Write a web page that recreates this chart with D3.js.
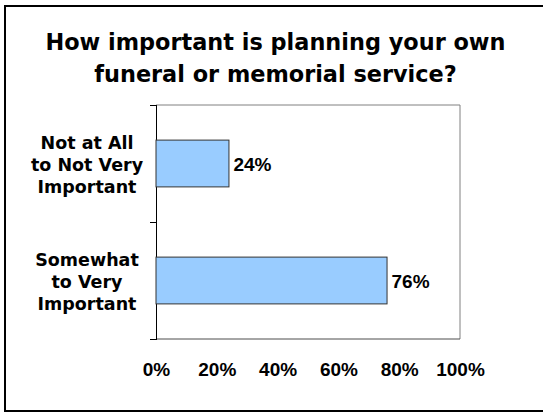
<!DOCTYPE html>
<html>
<head>
<meta charset="utf-8">
<script src="https://cdn.jsdelivr.net/npm/d3@7"></script>
<style>
  html, body { margin: 0; padding: 0; background: #fff; }
  svg { display: block; }
</style>
</head>
<body>
<svg id="chart" width="543" height="413"></svg>
<script>
// Survey answers, one bar per answer group
const categories = ["Not at All to Not Very Important", "Somewhat to Very Important"];
const categoryLines = [
  ["Not at All", "to Not Very", "Important"],
  ["Somewhat", "to Very", "Important"]
];
const values = [24, 76];
const tickValues = [0, 20, 40, 60, 80, 100];
const titleLines = ["How important is planning your own", "funeral or memorial service?"];

const svg = d3.select("#chart");

// Outer frame (its right edge runs past the page)
svg.append("rect")
  .attr("x", 5).attr("y", 6)
  .attr("width", 560).attr("height", 405)
  .attr("fill", "#fff")
  .attr("stroke", "#000")
  .attr("stroke-width", 2);

// Title
const title = svg.append("text")
  .attr("text-anchor", "middle")
  .attr("font-family", "'DejaVu Sans', sans-serif")
  .attr("font-weight", "bold")
  .attr("font-size", 22.4)
  .attr("fill", "#000");
titleLines.forEach((line, i) => {
  title.append("tspan")
    .attr("x", 275.5)
    .attr("y", 50 + i * 31.7)
    .text(line);
});

// Scales
const plot = { left: 156, right: 460, top: 105, bottom: 339 };
const x = d3.scaleLinear().domain([0, 100]).range([plot.left, plot.right]);
const y = d3.scaleBand().domain(categories)
  .range([plot.top, plot.bottom])
  .paddingInner(0.6)
  .paddingOuter(0.3);

// Plot area frame: top and right edges
svg.append("path")
  .attr("d", `M${plot.left},${plot.top}H${plot.right}V${plot.bottom}`)
  .attr("fill", "none")
  .attr("stroke", "#808080")
  .attr("stroke-width", 1);

// Bottom edge
svg.append("line")
  .attr("x1", plot.left).attr("x2", plot.right)
  .attr("y1", plot.bottom).attr("y2", plot.bottom)
  .attr("stroke", "#4d4d4d")
  .attr("stroke-width", 1);

// Category axis with ticks at the band boundaries
const boundaries = d3.range(categories.length + 1).map(i => plot.top + i * (plot.bottom - plot.top) / categories.length);
const yAxisScale = d3.scaleLinear().domain([plot.top, plot.bottom]).range([plot.top, plot.bottom]);
svg.append("g")
  .attr("transform", `translate(${plot.left},0)`)
  .call(d3.axisLeft(yAxisScale).tickValues(boundaries).tickSize(6).tickSizeOuter(6).tickFormat(""))
  .call(g => g.selectAll("path, line").attr("stroke", "#000").attr("shape-rendering", "crispEdges"));

// Value axis labels
svg.append("g")
  .attr("transform", `translate(0,${plot.bottom})`)
  .call(d3.axisBottom(x).tickValues(tickValues).tickSize(0).tickPadding(23.5).tickFormat(d => d + "%"))
  .call(g => g.select(".domain").remove())
  .call(g => g.selectAll("text")
    .attr("font-family", "'Liberation Sans', Arial, sans-serif")
    .attr("font-weight", "bold")
    .attr("font-size", 19)
    .attr("fill", "#000"));

// Bars
svg.append("g").selectAll("rect")
  .data(values)
  .join("rect")
  .attr("x", x(0))
  .attr("y", (d, i) => y(categories[i]))
  .attr("width", d => x(d) - x(0))
  .attr("height", y.bandwidth())
  .attr("fill", "#99ccff")
  .attr("stroke", "#333")
  .attr("stroke-width", 1);

// Value labels
svg.append("g").selectAll("text")
  .data(values)
  .join("text")
  .attr("x", d => x(d) + 4.5)
  .attr("y", (d, i) => y(categories[i]) + y.bandwidth() / 2 + 7)
  .attr("font-family", "'Liberation Sans', Arial, sans-serif")
  .attr("font-weight", "bold")
  .attr("font-size", 19)
  .attr("fill", "#000")
  .text(d => d + "%");

// Category labels, three lines each, centred on their bar
const catGroup = svg.append("g")
  .attr("font-family", "'DejaVu Sans', sans-serif")
  .attr("font-weight", "bold")
  .attr("font-size", 17.5)
  .attr("fill", "#000")
  .attr("text-anchor", "middle");
categories.forEach((c, i) => {
  const cy = y(c) + y.bandwidth() / 2;
  const t = catGroup.append("text");
  categoryLines[i].forEach((line, j) => {
    t.append("tspan")
      .attr("x", 87)
      .attr("y", cy + 7.7 + (j - 1) * 22)
      .text(line);
  });
});
</script>
</body>
</html>
